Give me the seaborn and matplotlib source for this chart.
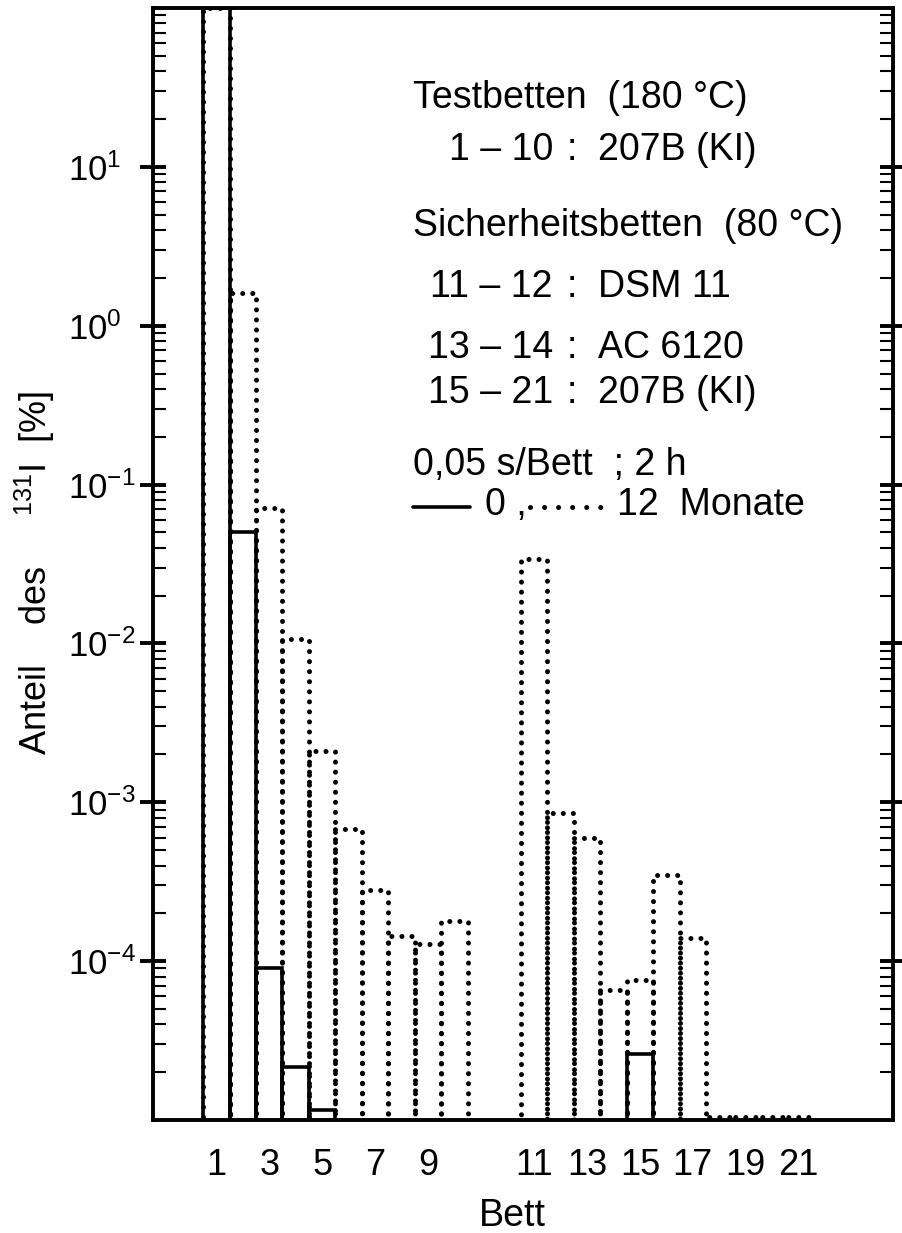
import numpy as np
import pandas as pd
import seaborn as sns
import matplotlib.pyplot as plt
from matplotlib.lines import Line2D
from matplotlib.ticker import LogLocator, LogFormatterSciNotation, NullFormatter

# Anteil des 131I [%] je Bett, 0 und 12 Monate
betten = list(range(1, 22))
anteil_0_monate = [99.9, 0.05, 9.0e-5, 2.15e-5, 1.15e-5, 0, 0, 0, 0, 0,
                   0, 0, 0, 0, 2.6e-5, 0, 0, 0, 0, 0, 0]
anteil_12_monate = [99.9, 1.6, 0.071, 0.0107, 2.1e-3, 6.8e-4, 2.8e-4, 1.43e-4, 1.29e-4, 1.78e-4,
                    0.034, 8.5e-4, 6.0e-4, 6.6e-5, 7.6e-5, 3.5e-4, 1.39e-4, 1.05e-5, 1.05e-5, 1.05e-5, 1.05e-5]
xtick_betten = [1, 3, 5, 7, 9, 11, 13, 15, 17, 19, 21]
ytick_werte = [1e-4, 1e-3, 1e-2, 1e-1, 1e0, 1e1]

W, H = 902, 1233
LUECKE = 2  # Luecke zwischen Testbetten und Sicherheitsbetten


def lage(bett):
    return bett + LUECKE if bett > 10 else bett


def px(x, y):
    # Pixel im Bild -> Figurkoordinaten
    return x / W, 1 - y / H


sns.set_style("ticks")
plt.rcParams['font.family'] = ['Liberation Sans', 'DejaVu Sans']
plt.rcParams['mathtext.default'] = 'regular'
plt.rcParams['text.color'] = 'black'
plt.rcParams['axes.edgecolor'] = 'black'
plt.rcParams['xtick.color'] = 'black'
plt.rcParams['ytick.color'] = 'black'
plt.rcParams['axes.labelcolor'] = 'black'

df = pd.DataFrame({
    'bett': betten,
    'pos': [lage(b) for b in betten],
    'm0': anteil_0_monate,
    'm12': anteil_12_monate,
})

fig = plt.figure(figsize=(W / 100, H / 100), dpi=100)
ax = fig.add_axes([153 / W, 1 - 1120 / H, (893 - 153) / W, (1120 - 8) / H])

# Balken als Umrisse, Fuss knapp unter der Achse (log)
fuss = 1e-8
punkt = (0, (0.01, 2.0))
sns.barplot(data=df[df['m12'] > 0], x='pos', y='m12', native_scale=True, fill=False,
            width=1, errorbar=None, color='black', linewidth=3.6, linestyle=punkt,
            capstyle='round', bottom=fuss, log_scale=(False, True), ax=ax)
sns.barplot(data=df[df['m0'] > 0], x='pos', y='m0', native_scale=True, fill=False,
            width=1, errorbar=None, color='black', linewidth=2.6, linestyle='-',
            bottom=fuss, log_scale=(False, True), ax=ax)

ax.set_xlim(-1.39, 26.56)
ax.set_ylim(1e-5, 1e2)

ax.set_xticks([lage(b) for b in xtick_betten])
ax.set_xticklabels([str(b) for b in xtick_betten])
ax.set_yticks(ytick_werte)
ax.yaxis.set_major_formatter(LogFormatterSciNotation())
ax.yaxis.set_minor_locator(LogLocator(base=10, subs=np.arange(2, 10), numticks=30))
ax.yaxis.set_minor_formatter(NullFormatter())

ax.tick_params(axis='y', which='major', direction='inout', length=19, width=2.8,
               left=True, right=True, labelsize=25, pad=52)
ax.tick_params(axis='y', which='minor', direction='in', length=9.5, width=1.5,
               left=True, right=True)
ax.tick_params(axis='x', which='both', length=0, labelsize=26, pad=20)
for lab in ax.get_yticklabels():
    lab.set_horizontalalignment('left')

for s in ax.spines.values():
    s.set_linewidth(2.8)
    s.set_color('black')

ax.set_xlabel('Bett', fontsize=27)
ax.xaxis.set_label_coords(0.485, -0.070)
ax.set_ylabel('Anteil    des     $^{131}$I  [%]', fontsize=26)
ax.yaxis.set_label_coords(-0.130, 0.492)

# Beschriftung im Diagramm
fs = 27
zeilen = [
    (413, 108, 'Testbetten  (180 °C)'),
    (413, 236, 'Sicherheitsbetten  (80 °C)'),
    (413, 475, '0,05 s/Bett  ; 2 h'),
    (485, 515, '0 ,'),
    (617, 515, '12  Monate'),
]
for x, y, t in zeilen:
    fig.text(*px(x, y), t, fontsize=fs, ha='left', va='baseline')

# Tabelle Bett : Material, am Doppelpunkt ausgerichtet
tabelle = [
    (160, '1 – 10', '207B (KI)'),
    (297, '11 – 12', 'DSM 11'),
    (358, '13 – 14', 'AC 6120'),
    (403, '15 – 21', '207B (KI)'),
]
for y, links, rechts in tabelle:
    fig.text(*px(553, y), links, fontsize=fs, ha='right', va='baseline')
    fig.text(*px(572, y), ':', fontsize=fs, ha='center', va='baseline')
    fig.text(*px(598, y), rechts, fontsize=fs, ha='left', va='baseline')

x0, y0 = px(413, 507)
x1, _ = px(470, 507)
fig.add_artist(Line2D([x0, x1], [y0, y0], color='black', linewidth=2.6))
x0, y0 = px(530, 507)
x1, _ = px(603, 507)
fig.add_artist(Line2D([x0, x1], [y0, y0], color='black', linewidth=3.6,
                      linestyle=(0, (0.01, 2.8)), dash_capstyle='round'))

fig.savefig('out.png', dpi=100)
